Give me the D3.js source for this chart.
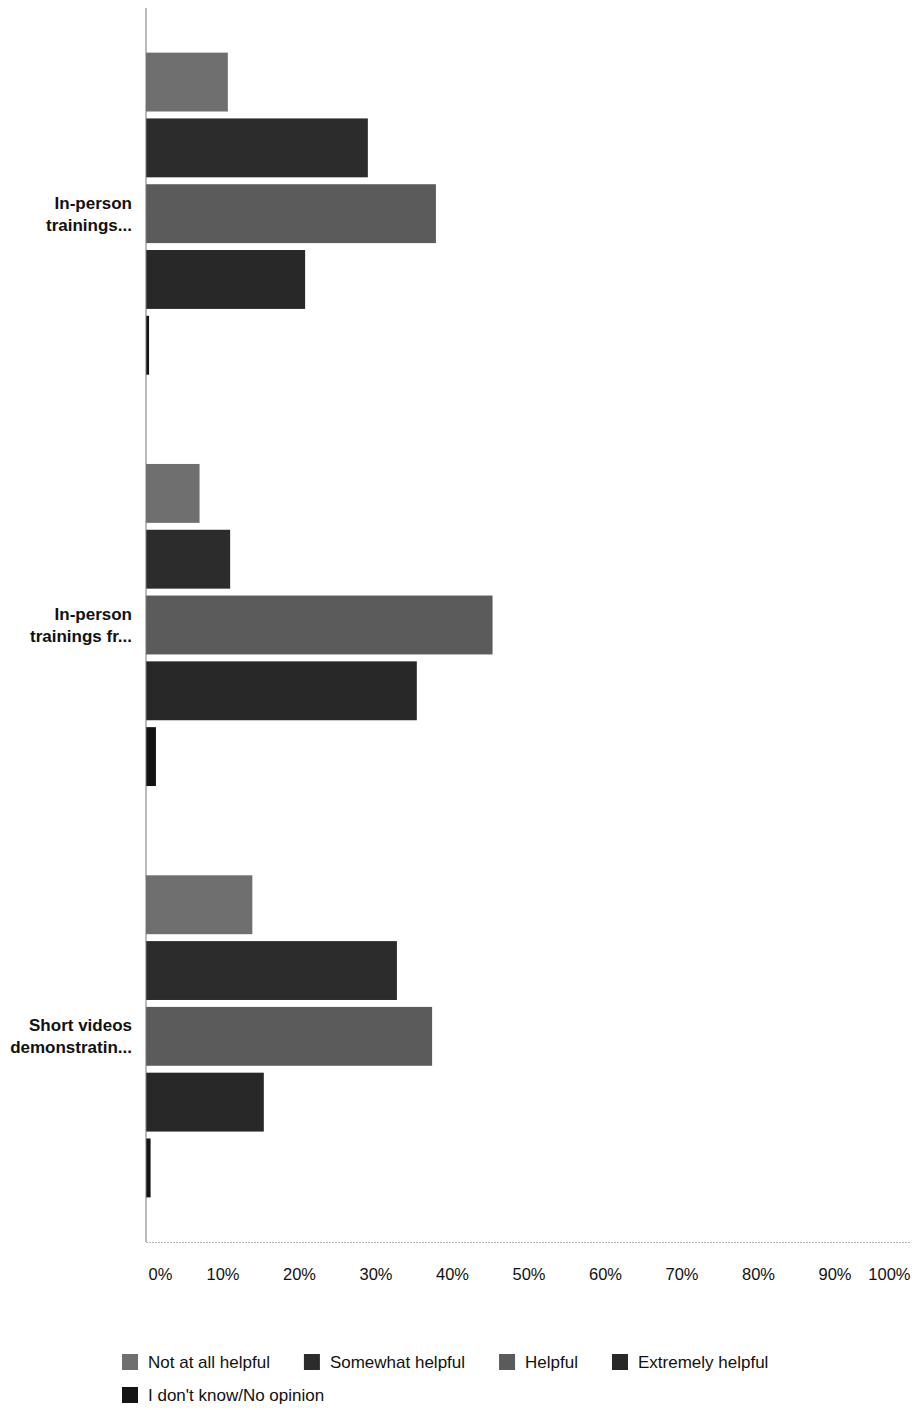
<!DOCTYPE html>
<html>
<head>
<meta charset="utf-8">
<script src="https://cdn.jsdelivr.net/npm/d3@7"></script>
<style>
  html, body { margin: 0; padding: 0; background: #ffffff; }
  svg { display: block; }
  text { font-family: "Liberation Sans", Arial, Helvetica, sans-serif; fill: #111; }
</style>
</head>
<body>
<svg id="chart" width="916" height="1410"></svg>
<script>
// Survey questions (labels are shown truncated, split over two lines)
const categories = ["In-person trainings...", "In-person trainings fr...", "Short videos demonstratin..."];
const categoryLines = [
  ["In-person", "trainings..."],
  ["In-person", "trainings fr..."],
  ["Short videos", "demonstratin..."]
];

// Answer options
const seriesNames = ["Not at all helpful", "Somewhat helpful", "Helpful", "Extremely helpful", "I don't know/No opinion"];

// Share of respondents (%) per question, one array per answer option
const notAtAllHelpful  = [10.7, 7.0, 13.9];
const somewhatHelpful  = [29.0, 11.0, 32.8];
const helpful          = [37.9, 45.3, 37.4];
const extremelyHelpful = [20.8, 35.4, 15.4];
const dontKnow         = [0.4, 1.3, 0.6];

const tickValues = [0, 10, 20, 30, 40, 50, 60, 70, 80, 90, 100];
const tickLabels = ["0%", "10%", "20%", "30%", "40%", "50%", "60%", "70%", "80%", "90%", "100%"];

const seriesValues = [notAtAllHelpful, somewhatHelpful, helpful, extremelyHelpful, dontKnow];
const seriesColors = ["#6f6f6f", "#2c2c2c", "#5b5b5b", "#282828", "#141414"];

const svg = d3.select("#chart");

const plot = { left: 146, right: 911, top: 8, bottom: 1242 };

const x = d3.scaleLinear().domain([0, 100]).range([plot.left, plot.right]);

const y = d3.scaleBand()
  .domain(categories)
  .range([plot.top, plot.bottom])
  .paddingInner(0.217)
  .paddingOuter(0.1085);

const ySeries = d3.scaleBand()
  .domain(seriesNames)
  .range([0, y.bandwidth()])
  .paddingInner(0.105)
  .paddingOuter(0);

const color = d3.scaleOrdinal().domain(seriesNames).range(seriesColors);

// Flatten into one record per bar
const rows = [];
categories.forEach((cat, i) => {
  seriesNames.forEach((s, j) => {
    rows.push({ category: cat, series: s, value: seriesValues[j][i] });
  });
});

// Bars
svg.append("g")
  .selectAll("rect")
  .data(rows)
  .join("rect")
  .attr("x", x(0))
  .attr("y", d => y(d.category) + ySeries(d.series))
  .attr("width", d => x(d.value) - x(0))
  .attr("height", ySeries.bandwidth())
  .attr("fill", d => color(d.series));

// Vertical axis line
svg.append("line")
  .attr("x1", x(0)).attr("x2", x(0))
  .attr("y1", plot.top).attr("y2", plot.bottom)
  .attr("stroke", "#777").attr("stroke-width", 1);

// Bottom baseline
svg.append("line")
  .attr("x1", x(0)).attr("x2", x(100))
  .attr("y1", plot.bottom + 0.5).attr("y2", plot.bottom + 0.5)
  .attr("stroke", "#b5b5b5").attr("stroke-width", 1)
  .attr("stroke-dasharray", "2,1");

// Category labels, two lines each, right aligned
const catG = svg.append("g");
categories.forEach((cat, i) => {
  const c = y(cat) + y.bandwidth() / 2;
  const t = catG.append("text")
    .attr("x", 132)
    .attr("y", c - 5)
    .attr("text-anchor", "end")
    .style("font-size", "17px")
    .style("font-weight", "bold");
  categoryLines[i].forEach((line, k) => {
    t.append("tspan")
      .attr("x", 132)
      .attr("dy", k === 0 ? 0 : 22)
      .text(line);
  });
});

// Percentage axis
const xAxis = d3.axisBottom(x)
  .tickValues(tickValues)
  .tickFormat((d, i) => tickLabels[i])
  .tickSize(0)
  .tickPadding(0);

const axisG = svg.append("g")
  .attr("transform", `translate(0,${plot.bottom})`)
  .call(xAxis);
axisG.select(".domain").remove();
axisG.selectAll("text")
  .attr("y", 38)
  .attr("dy", 0)
  .style("font-size", "16.5px")
  .style("font-family", "\"Liberation Sans\", Arial, sans-serif")
  .attr("fill", "#111")
  .attr("text-anchor", (d, i) => i === 0 ? "start" : (i === tickValues.length - 1 ? "end" : "middle"))
  .attr("x", (d, i) => i === 0 ? 2 : (i === tickValues.length - 1 ? -1 : 0));

// Legend: four entries on the first row, the last on a second row
const legendRows = [seriesNames.slice(0, 4), seriesNames.slice(4)];
const legendTop = [1362, 1395];
const legendStart = 122;
const sw = 16, swGap = 10, itemGap = 34;

legendRows.forEach((names, r) => {
  let cx = legendStart;
  names.forEach(name => {
    const g = svg.append("g").attr("transform", `translate(${cx},${legendTop[r]})`);
    g.append("rect")
      .attr("x", 0).attr("y", -sw / 2)
      .attr("width", sw).attr("height", sw)
      .attr("fill", color(name));
    const t = g.append("text")
      .attr("x", sw + swGap)
      .attr("y", 6)
      .style("font-size", "17px")
      .text(name);
    cx += sw + swGap + t.node().getComputedTextLength() + itemGap;
  });
});
</script>
</body>
</html>
